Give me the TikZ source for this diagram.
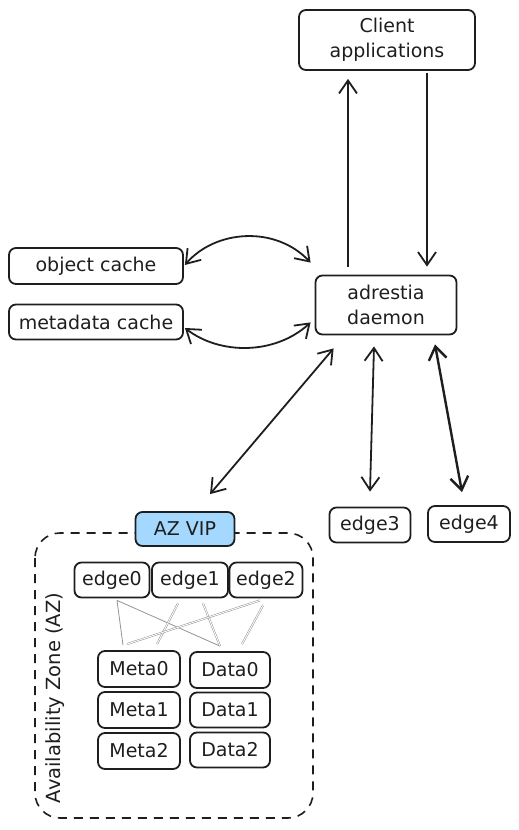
\documentclass[tikz,border=0pt]{standalone}
\usepackage{fontspec}
\setmainfont{DejaVu Sans}
\usetikzlibrary{arrows.meta,calc}
\definecolor{vipblue}{HTML}{A5D8FF}
\definecolor{ink}{HTML}{1E1E1E}
\begin{document}
\begin{tikzpicture}[x=1pt,y=-1pt,
  box/.style={draw=ink,line width=1.8pt,rounded corners=7pt,inner sep=0pt,
    font=\fontsize{19}{25}\selectfont,align=center,text=ink},
  tip/.tip={Straight Barb[length=13pt,width=18pt]},
  arr/.style={draw=ink,line width=1.8pt,-tip},
  darr/.style={draw=ink,line width=1.8pt,tip-tip},
  mesh/.style={draw=gray!85,line width=0.8pt},
  dmesh/.style={draw=gray!85,line width=0.5pt,double=white,double distance=0.9pt}]
\useasboundingbox (0,0) rectangle (519,830);

% dashed availability zone
\draw[draw=ink,line width=1.6pt,dash pattern=on 9pt off 7pt,rounded corners=25pt]
  (35,533) rectangle (313,818);
\node[font=\fontsize{19.5}{22}\selectfont,rotate=90,text=ink] (azlabel) at (55,698) {Availability Zone (AZ)};

% nodes
\node[box,minimum width=176pt,minimum height=60pt] (client) at (387,40) {Client\\applications};
\node[box,minimum width=141pt,minimum height=59pt] (ad) at (386,305) {adrestia\\daemon};
\node[box,minimum width=174pt,minimum height=36pt] (oc) at (96,266) {object cache};
\node[box,minimum width=174pt,minimum height=35pt] (mc) at (96,322) {metadata cache};
\node[box,fill=vipblue,minimum width=99pt,minimum height=34pt] (vip) at (185,529) {AZ VIP};
\node[box,minimum width=75pt,minimum height=35pt] (e0) at (112,580) {edge0};
\node[box,minimum width=76pt,minimum height=35pt] (e1) at (190,580) {edge1};
\node[box,minimum width=73pt,minimum height=35pt] (e2) at (266,580) {edge2};
\node[box,minimum width=81pt,minimum height=35pt] (e3) at (370,525) {edge3};
\node[box,minimum width=82pt,minimum height=36pt] (e4) at (469,524) {edge4};
\node[box,minimum width=82pt,minimum height=36pt] (m0) at (139,669) {Meta0};
\node[box,minimum width=82pt,minimum height=36pt] (m1) at (139,710) {Meta1};
\node[box,minimum width=82pt,minimum height=36pt] (m2) at (139,751) {Meta2};
\node[box,minimum width=80pt,minimum height=36pt] (d0) at (230,670) {Data0};
\node[box,minimum width=80pt,minimum height=35pt] (d1) at (230,710) {Data1};
\node[box,minimum width=80pt,minimum height=35pt] (d2) at (230,750) {Data2};

% mesh connections
\draw[mesh] ($(e0.south)+(5,2)$) -- ($(m0.north)+(-16,-5)$);
\draw[mesh] ($(e0.south)+(5,2)$) -- ($(d0.north)+(-10,-5)$);
\draw[dmesh] ($(e1.south)+(-12,5)$) -- ($(m0.north)+(18,-6)$);
\draw[dmesh] ($(e1.south)+(13,5)$) -- ($(d0.north)+(-10,-5)$);
\draw[dmesh] ($(e2.south)+(-6,2)$) -- ($(m0.north)+(-12,-6)$);
\draw[dmesh] ($(e2.south)+(-3,7)$) -- ($(d0.north)+(12,-7)$);

% arrows
\draw[arr] ($(ad.north)+(-38,-8)$) -- ($(client.south)+(-39,8)$);
\draw[arr] ($(client.south)+(40,2)$) -- ($(ad.north)+(41,-8)$);
\draw[darr] ($(oc.east)+(1,-1)$) .. controls (215,230) and (275,225) .. ($(ad.north west)+(-4,-12)$);
\draw[darr] ($(mc.east)+(1,6)$) .. controls (220,355) and (275,355) .. ($(ad.south west)+(-4,-13)$);
\draw[darr] ($(vip.north)+(25,-17)$) -- ($(ad.south west)+(19,13)$);
\draw[darr] ($(ad.south)+(-12,11)$) -- ($(e3.north)+(0,-15)$);
\draw[darr,line width=2.4pt] ($(ad.south)+(49,9)$) -- ($(e4.north)+(-7,-13)$);
\end{tikzpicture}
\end{document}
